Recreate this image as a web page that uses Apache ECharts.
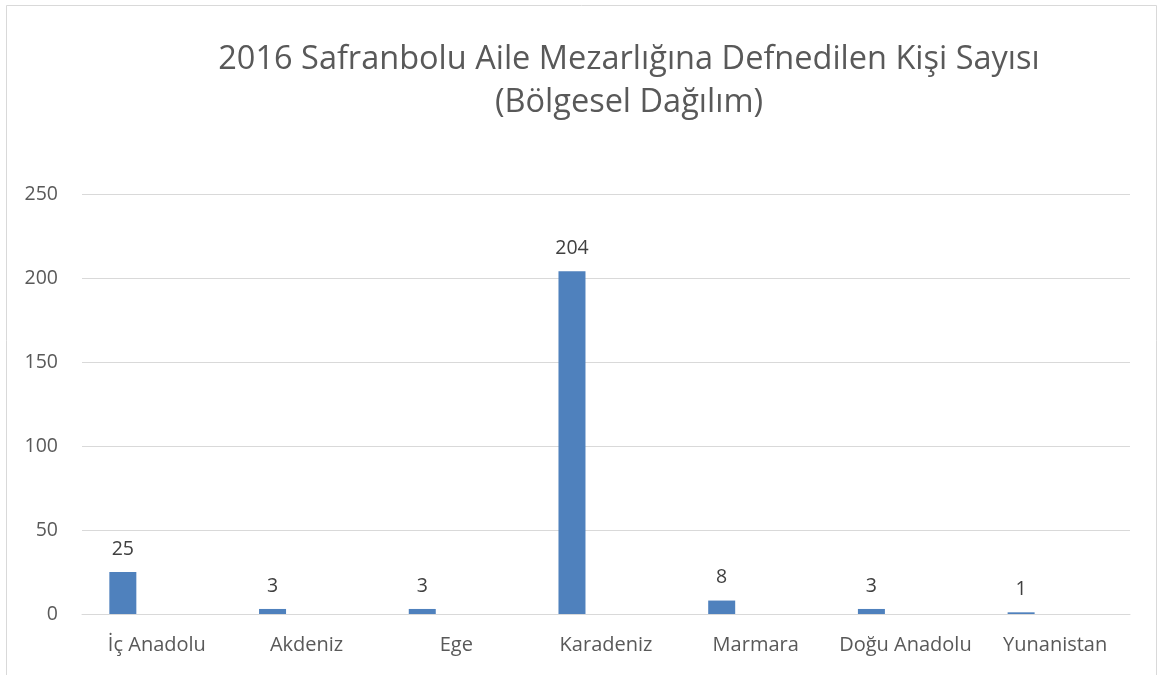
<!DOCTYPE html>
<html>
<head>
<meta charset="utf-8">
<script src="https://cdn.jsdelivr.net/npm/echarts@6/dist/echarts.min.js"></script>
<style>
  html, body { margin: 0; padding: 0; background: #fff; }
  #chart { width: 1162px; height: 675px; }
</style>
</head>
<body>
<div id="chart"></div>
<script>
// bölgeler
const categories = ['İç Anadolu', 'Akdeniz', 'Ege', 'Karadeniz', 'Marmara', 'Doğu Anadolu', 'Yunanistan']
const values = [25, 3, 3, 204, 8, 3, 1]
const yTicks = [0, 50, 100, 150, 200, 250]

const FONT = '"Open Sans", sans-serif'
const chart = echarts.init(document.getElementById('chart'))

const option = {
  animation: false,
  backgroundColor: '#fff',
  title: {
    text: '2016 Safranbolu Aile Mezarlığına Defnedilen Kişi Sayısı\n(Bölgesel Dağılım)',
    left: 624,
    top: 33,
    textAlign: 'center',
    textStyle: {
      fontFamily: FONT,
      fontWeight: 'normal',
      fontSize: 32.5,
      lineHeight: 43,
      color: '#595959'
    }
  },
  graphic: [
    {
      type: 'rect',
      shape: { x: 6.5, y: 5.5, width: 1150, height: 680 },
      style: { fill: 'none', stroke: '#d9d9d9', lineWidth: 1 },
      silent: true
    }
  ],
  grid: {
    left: 82,
    right: 32,
    top: 194,
    bottom: 61
  },
  xAxis: {
    type: 'category',
    data: categories,
    axisLine: { lineStyle: { color: '#d9d9d9', width: 1 } },
    axisTick: { show: false },
    axisLabel: {
      interval: 0,
      fontFamily: FONT,
      fontSize: 20,
      color: '#595959',
      margin: 21
    }
  },
  yAxis: {
    type: 'value',
    min: yTicks[0],
    max: yTicks[yTicks.length - 1],
    interval: 50,
    axisLine: { show: false },
    axisTick: { show: false },
    axisLabel: {
      fontFamily: FONT,
      fontSize: 19.5,
      color: '#595959',
      margin: 24
    },
    splitLine: { lineStyle: { color: '#d9d9d9', width: 1 } }
  },
  series: [
    {
      type: 'bar',
      data: values,
      barWidth: 27,
      barGap: '26%',
      itemStyle: { color: '#4f81bd' },
      label: {
        show: true,
        position: 'top',
        distance: 13,
        fontFamily: FONT,
        fontSize: 19.5,
        color: '#404040'
      }
    },
    // boş seriler (Excel'deki gibi yer tutucu)
    { type: 'bar', data: [], barWidth: 27, barGap: '26%' },
    { type: 'bar', data: [], barWidth: 27, barGap: '26%' }
  ]
}

chart.setOption(option)
</script>
</body>
</html>
